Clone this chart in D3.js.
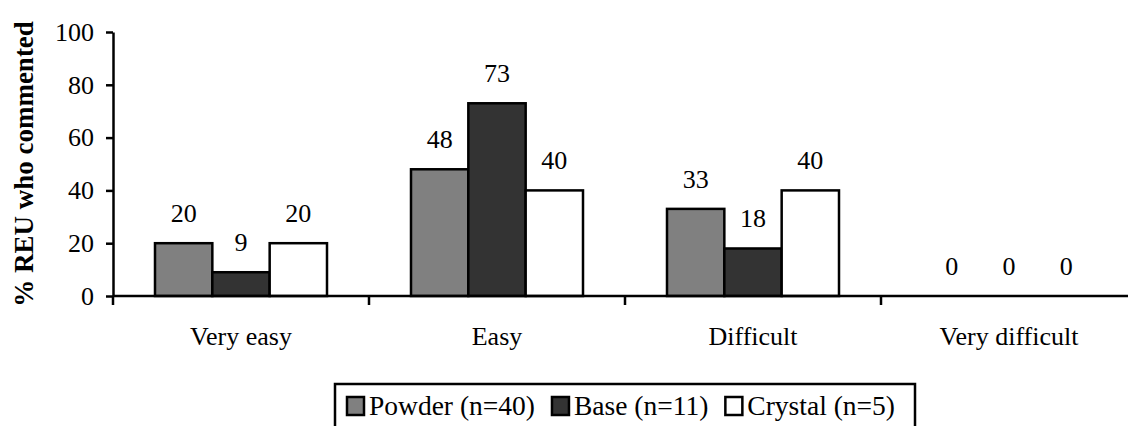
<!DOCTYPE html>
<html>
<head>
<meta charset="utf-8">
<script src="https://cdn.jsdelivr.net/npm/d3@7"></script>
<style>
  body { margin: 0; background: #fff; }
</style>
</head>
<body>
<div id="chart"></div>
<script>
var categories = ["Very easy", "Easy", "Difficult", "Very difficult"];
var seriesNames = ["Powder (n=40)", "Base (n=11)", "Crystal (n=5)"];
var powder = [20, 48, 33, 0];
var base = [9, 73, 18, 0];
var crystal = [20, 40, 40, 0];
var yTicks = [0, 20, 40, 60, 80, 100];
var seriesColors = ["#808080", "#333333", "#ffffff"];

var serifFont = "'Liberation Serif', 'DejaVu Serif', 'Noto Serif', 'Times New Roman', Times, serif";

var svgWidth = 1128;
var svgHeight = 426;

var margin = { top: 32, right: 0, bottom: 130, left: 113 };
var height = svgHeight - margin.top - margin.bottom; // 264
var width = 1024;

var svg = d3.select("#chart")
  .append("svg")
  .attr("width", svgWidth)
  .attr("height", svgHeight);

var chartGroup = svg.append("g")
  .attr("transform", `translate(${margin.left}, ${margin.top})`);

var seriesValues = [powder, base, crystal];
var data = [];
categories.forEach(function(cat, i) {
  seriesNames.forEach(function(s, j) {
    data.push({ cat: cat, series: s, idx: j, value: seriesValues[j][i] });
  });
});

var xScale = d3.scaleBand()
  .domain(categories)
  .range([0, width])
  .padding(0);

var xSub = d3.scaleBand()
  .domain(seriesNames)
  .range([42, 214]);

var yScale = d3.scaleLinear()
  .domain([0, 100])
  .range([height, 0]);

// y axis
var leftAxis = d3.axisLeft(yScale)
  .tickValues(yTicks)
  .tickSize(7)
  .tickSizeOuter(0)
  .tickPadding(12);

var yAxisG = chartGroup.append("g").call(leftAxis);
yAxisG.select(".domain").attr("stroke", "#000").attr("stroke-width", 2.5);
yAxisG.selectAll(".tick line").attr("stroke", "#000").attr("stroke-width", 2.5);
yAxisG.selectAll(".tick text")
  .style("font-family", serifFont)
  .style("font-size", "26px")
  .attr("fill", "#000");

// bars
chartGroup.selectAll("rect.bar")
  .data(data.filter(d => d.value > 0))
  .enter()
  .append("rect")
  .attr("class", "bar")
  .attr("x", d => xScale(d.cat) + xSub(d.series))
  .attr("y", d => yScale(d.value))
  .attr("width", xSub.bandwidth())
  .attr("height", d => height - yScale(d.value))
  .attr("fill", d => seriesColors[d.idx])
  .attr("stroke", "#000")
  .attr("stroke-width", 2.5);

// x axis line + category boundary ticks
chartGroup.append("line")
  .attr("x1", 0).attr("x2", width)
  .attr("y1", height).attr("y2", height)
  .attr("stroke", "#000").attr("stroke-width", 2.5);

chartGroup.selectAll("line.xtick")
  .data(categories)
  .enter()
  .append("line")
  .attr("class", "xtick")
  .attr("x1", d => xScale(d)).attr("x2", d => xScale(d))
  .attr("y1", height).attr("y2", height + 9)
  .attr("stroke", "#000").attr("stroke-width", 2.5);

chartGroup.selectAll("text.xlabel")
  .data(categories)
  .enter()
  .append("text")
  .attr("class", "xlabel")
  .attr("x", d => xScale(d) + xScale.bandwidth() / 2)
  .attr("y", height + 49)
  .style("font-family", serifFont)
  .style("font-size", "26px")
  .style("text-anchor", "middle")
  .text(d => d);

// value labels
chartGroup.selectAll("text.value")
  .data(data)
  .enter()
  .append("text")
  .attr("class", "value")
  .attr("x", d => xScale(d.cat) + xSub(d.series) + xSub.bandwidth() / 2)
  .attr("y", d => yScale(d.value) - 21)
  .style("font-family", serifFont)
  .style("font-size", "26px")
  .style("text-anchor", "middle")
  .text(d => d.value);

// y axis title
svg.append("text")
  .attr("transform", "rotate(-90)")
  .attr("x", -(margin.top + height / 2))
  .attr("y", 33)
  .style("font-family", serifFont)
  .style("font-size", "27px")
  .style("font-weight", "bold")
  .style("text-anchor", "middle")
  .text("% REU who commented");

// legend
var legend = svg.append("g").attr("transform", "translate(335, 384)");
var legendBox = legend.append("rect")
  .attr("x", 0).attr("y", 0)
  .attr("height", 60)
  .attr("fill", "#fff")
  .attr("stroke", "#000")
  .attr("stroke-width", 2.5);

var cursor = 12;
seriesNames.forEach(function(name, j) {
  legend.append("rect")
    .attr("x", cursor).attr("y", 13)
    .attr("width", 17).attr("height", 18)
    .attr("fill", seriesColors[j])
    .attr("stroke", "#000")
    .attr("stroke-width", 2.5);
  var t = legend.append("text")
    .attr("x", cursor + 22)
    .attr("y", 31)
    .style("font-family", serifFont)
    .style("font-size", "27.5px")
    .text(name);
  cursor += 22 + t.node().getComputedTextLength() + 17;
});
legendBox.attr("width", cursor + 3);
</script>
</body>
</html>
